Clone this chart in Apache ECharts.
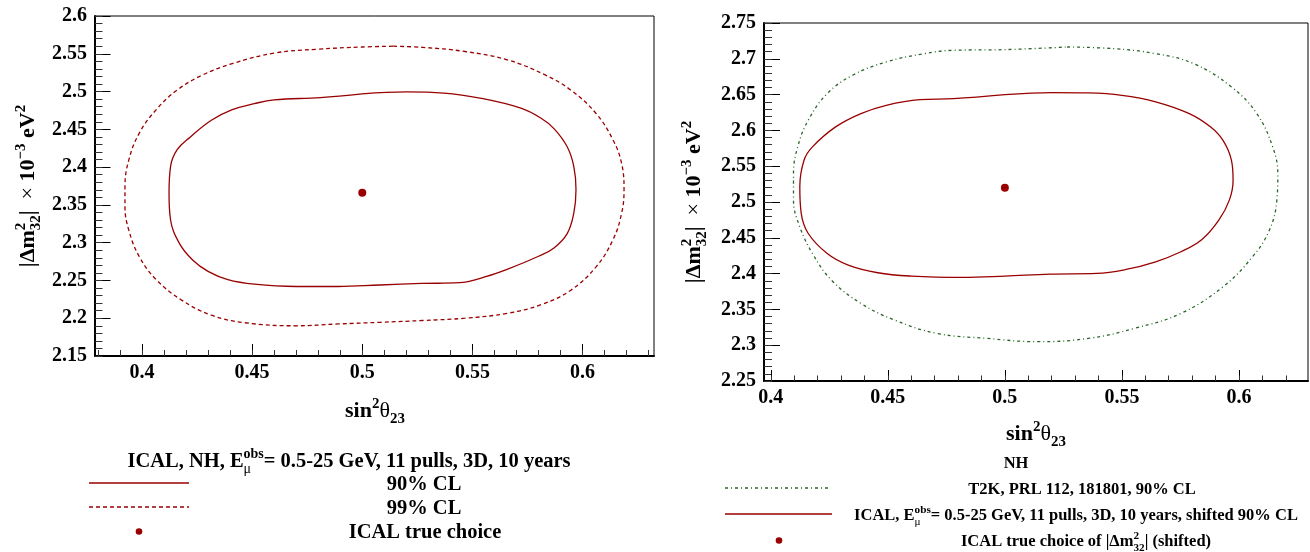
<!DOCTYPE html>
<html><head><meta charset="utf-8">
<script src="https://cdn.jsdelivr.net/npm/echarts@6/dist/echarts.min.js"></script>
<style>html,body{margin:0;padding:0;background:#fff}#c{width:1310px;height:552px}</style>
</head><body><div id="c"></div>
<script>
// ---------- data ----------
const xTickLabels = [0.4, 0.45, 0.5, 0.55, 0.6];
const leftYTickLabels = [2.15, 2.2, 2.25, 2.3, 2.35, 2.4, 2.45, 2.5, 2.55, 2.6];
const rightYTickLabels = [2.25, 2.3, 2.35, 2.4, 2.45, 2.5, 2.55, 2.6, 2.65, 2.7, 2.75];

const left90 = [[0.500,2.497],[0.520,2.4995],[0.537,2.498],[0.554,2.491],[0.572,2.478],[0.581,2.465],[0.587,2.451],[0.593,2.427],[0.596,2.401],[0.597,2.370],[0.596,2.339],[0.593,2.312],[0.587,2.293],[0.580,2.282],[0.566,2.265],[0.556,2.255],[0.544,2.247],[0.527,2.246],[0.508,2.244],[0.489,2.242],[0.470,2.242],[0.451,2.245],[0.439,2.251],[0.430,2.262],[0.423,2.277],[0.417,2.299],[0.413,2.330],[0.4123,2.365],[0.413,2.401],[0.416,2.423],[0.422,2.440],[0.4315,2.462],[0.441,2.476],[0.451,2.484],[0.460,2.489],[0.481,2.492],[0.500,2.497]];
const left99 = [[0.514,2.560],[0.5274,2.5585],[0.5466,2.553],[0.5658,2.542],[0.583,2.522],[0.5946,2.502],[0.6061,2.471],[0.6138,2.436],[0.6177,2.405],[0.6188,2.370],[0.6177,2.339],[0.6138,2.304],[0.6061,2.268],[0.5946,2.237],[0.5812,2.218],[0.5658,2.2065],[0.5466,2.200],[0.5274,2.197],[0.5083,2.1946],[0.489,2.1924],[0.470,2.190],[0.4468,2.194],[0.4315,2.204],[0.418,2.224],[0.4065,2.251],[0.3988,2.2815],[0.394,2.317],[0.3923,2.348],[0.3923,2.374],[0.394,2.409],[0.3988,2.445],[0.4065,2.476],[0.416,2.502],[0.4276,2.522],[0.441,2.537],[0.4603,2.551],[0.4795,2.556],[0.500,2.559],[0.514,2.560]];
const leftTrue = [[0.5, 2.366]];

const right90 = [[0.500,2.650],[0.5203,2.6528],[0.5356,2.6523],[0.550,2.649],[0.5644,2.640],[0.5788,2.6235],[0.5878,2.605],[0.5932,2.586],[0.5968,2.558],[0.5975,2.5305],[0.5959,2.5026],[0.5914,2.4747],[0.5842,2.4477],[0.5752,2.4305],[0.5644,2.4165],[0.5518,2.4058],[0.5392,2.4002],[0.5194,2.3993],[0.500,2.3965],[0.4817,2.3947],[0.4601,2.3965],[0.4457,2.4012],[0.4331,2.4119],[0.4241,2.4281],[0.416,2.456],[0.413,2.484],[0.4124,2.5212],[0.4142,2.5584],[0.4178,2.577],[0.4277,2.6049],[0.4385,2.6235],[0.4493,2.6351],[0.4637,2.643],[0.478,2.6444],[0.500,2.650]];
const rightT2K = [[0.5266,2.7165],[0.5464,2.7142],[0.5644,2.7072],[0.5806,2.6933],[0.5968,2.6607],[0.6076,2.6235],[0.6144,2.577],[0.6166,2.5398],[0.6162,2.5026],[0.613,2.4607],[0.6058,2.4235],[0.5932,2.3816],[0.5752,2.3444],[0.5554,2.3235],[0.5356,2.3095],[0.514,2.3049],[0.4924,2.3095],[0.4709,2.3165],[0.4529,2.3351],[0.4385,2.3584],[0.4259,2.3909],[0.4178,2.4281],[0.4124,2.4653],[0.4097,2.5026],[0.4097,2.5398],[0.4115,2.577],[0.416,2.6142],[0.4241,2.6514],[0.4349,2.677],[0.4493,2.6956],[0.4655,2.7072],[0.478,2.7119],[0.500,2.7128],[0.5266,2.7165]];
const rightTrue = [[0.5, 2.52]];

// ---------- helpers ----------
function steps(a, b, d) { const out = []; const n = Math.round((b - a) / d); for (let i = 0; i <= n; i++) out.push(+(a + i * d).toFixed(4)); return out; }
const leftXMinor = steps(0.38, 0.63, 0.01);
const rightXMinor = steps(0.40, 0.62, 0.01);
const leftYMinor = steps(2.15, 2.60, 0.01);
const rightYMinor = steps(2.25, 2.75, 0.01);

const FF = '"Liberation Serif", "Times New Roman", serif';
const RED = '#990000', GREEN = '#2a662a';
const cv = document.createElement('canvas').getContext('2d');
function fstr(s, w) { return w + ' ' + s + 'px ' + FF; }
function mw(t, s, w) { cv.font = fstr(s, w); return cv.measureText(t).width; }
function boff(s, w) { cv.font = fstr(s, w); cv.textBaseline = 'middle'; return cv.measureText('H').actualBoundingBoxDescent; }
// pieces: {t, k size factor, w weight, dy baseline shift (x S), st: 'a'|'b' for stacked sup/sub}
function mathGroup(pieces, S, cx, by, rot) {
  let x = 0, sx = 0, sw = 0; const items = [];
  for (const p of pieces) {
    const s = S * (p.k || 1), w = p.w || 'bold', wd = mw(p.t, s, w);
    if (p.st === 'a') { sx = x; sw = wd; items.push({ p, s, w, x }); continue; }
    if (p.st === 'b') { items.push({ p, s, w, x: sx }); x = sx + Math.max(sw, wd); continue; }
    items.push({ p, s, w, x }); x += wd;
  }
  const W = x;
  return {
    type: 'group', x: cx, y: by, rotation: rot || 0, silent: true,
    children: items.map(it => ({
      type: 'text', x: it.x - W / 2, y: (it.p.dy || 0) * S - boff(it.s, it.w),
      style: { text: it.p.t, fontSize: it.s, fontWeight: it.w, fontFamily: FF, fill: '#000', align: 'left', verticalAlign: 'middle' }
    }))
  };
}
const SUP = -0.42, SUB = 0.28, K = 0.68;
function yTitle() {
  return [
    { t: '|' , w: 'bold' }, { t: 'Δ', w: 'bold' }, { t: 'm', w: 'bold' },
    { t: '2', k: K, dy: SUP, st: 'a' }, { t: '32', k: K, dy: SUB, st: 'b' },
    { t: '|  ', w: 'bold' }, { t: '×', w: 'normal' }, { t: ' 10', w: 'bold' },
    { t: '−3', k: K, dy: SUP }, { t: ' eV', w: 'bold' }, { t: '2', k: K, dy: SUP }
  ];
}
function xTitle() {
  return [{ t: 'sin' }, { t: '2', k: K, dy: SUP }, { t: 'θ', w: 'normal' }, { t: '23', k: K, dy: SUB }];
}
function eObs(prefix, suffix) {
  return [{ t: prefix }, { t: 'E' }, { t: 'obs', k: K, dy: SUP, st: 'a' }, { t: 'μ', k: K, dy: SUB, w: 'normal', st: 'b' }, { t: suffix }];
}
function line(x1, x2, y, color, dash) {
  return { type: 'line', silent: true, shape: { x1, y1: y, x2, y2: y }, style: { stroke: color, lineWidth: 1.3, lineDash: dash || null } };
}
function dot(x, y) { return { type: 'circle', silent: true, shape: { cx: x, cy: y, r: 3.3 }, style: { fill: RED } }; }

// ---------- axes ----------
function majorX(grid, min, max, tickLen) {
  return { type: 'value', gridIndex: grid, min, max, position: 'bottom',
    axisLine: { show: true, onZero: false, lineStyle: { color: '#000', width: 2 } },
    axisTick: { show: true, inside: true, length: tickLen, customValues: xTickLabels, lineStyle: { color: '#000', width: 1 } },
    axisLabel: { show: true, customValues: xTickLabels, margin: 7, color: '#000', fontSize: 20, fontWeight: 'bold', fontFamily: FF },
    splitLine: { show: false } };
}
function minorX(grid, min, max, vals, tickLen) {
  return { type: 'value', gridIndex: grid, min, max, position: 'bottom',
    axisLine: { show: false, onZero: false },
    axisTick: { show: true, inside: true, length: tickLen, customValues: vals, lineStyle: { color: '#333', width: 1 } },
    axisLabel: { show: false }, splitLine: { show: false } };
}
function majorY(grid, min, max, vals, tickLen) {
  return { type: 'value', gridIndex: grid, min, max, position: 'left',
    axisLine: { show: true, onZero: false, lineStyle: { color: '#000', width: 2 } },
    axisTick: { show: true, inside: true, length: tickLen, customValues: vals, lineStyle: { color: '#000', width: 1 } },
    axisLabel: { show: true, customValues: vals, margin: 8, color: '#000', fontSize: 20, fontWeight: 'bold', fontFamily: FF },
    splitLine: { show: false } };
}
function minorY(grid, min, max, vals, tickLen) {
  return { type: 'value', gridIndex: grid, min, max, position: 'left',
    axisLine: { show: false, onZero: false },
    axisTick: { show: true, inside: true, length: tickLen, customValues: vals, lineStyle: { color: '#333', width: 1 } },
    axisLabel: { show: false }, splitLine: { show: false } };
}

const chart = echarts.init(document.getElementById('c'), null, { renderer: 'canvas' });
const LXMIN = 0.3787, LXMAX = 0.6324, RXMIN = 0.3971, RXMAX = 0.6295;
const option = {
  animation: false,
  backgroundColor: '#fff',
  grid: [
    { left: 95, top: 16, width: 559, height: 340, show: true, borderColor: '#000', borderWidth: 1, backgroundColor: 'transparent' },
    { left: 764, top: 23, width: 544, height: 358, show: true, borderColor: '#000', borderWidth: 1, backgroundColor: 'transparent' }
  ],
  xAxis: [
    majorX(0, LXMIN, LXMAX, 12), minorX(0, LXMIN, LXMAX, leftXMinor, 6),
    majorX(1, RXMIN, RXMAX, 11), minorX(1, RXMIN, RXMAX, rightXMinor, 5.5)
  ],
  yAxis: [
    majorY(0, 2.15, 2.6, leftYTickLabels, 15.5), minorY(0, 2.15, 2.6, leftYMinor, 7.5),
    majorY(1, 2.25, 2.75, rightYTickLabels, 16), minorY(1, 2.25, 2.75, rightYMinor, 8)
  ],
  series: [
    { type: 'line', name: '99% CL', xAxisIndex: 0, yAxisIndex: 0, data: left99, smooth: 0.4, showSymbol: false, lineStyle: { color: RED, width: 1.3, type: [4, 3] } },
    { type: 'line', name: '90% CL', xAxisIndex: 0, yAxisIndex: 0, data: left90, smooth: 0.4, showSymbol: false, lineStyle: { color: RED, width: 1.3 } },
    { type: 'scatter', name: 'ICAL true choice', xAxisIndex: 0, yAxisIndex: 0, data: leftTrue, symbolSize: 8, itemStyle: { color: RED, opacity: 1 } },
    { type: 'line', name: 'T2K', xAxisIndex: 2, yAxisIndex: 2, data: rightT2K, smooth: 0.4, showSymbol: false, lineStyle: { color: GREEN, width: 1.3, type: [3, 3, 1, 3] } },
    { type: 'line', name: 'ICAL shifted 90% CL', xAxisIndex: 2, yAxisIndex: 2, data: right90, smooth: 0.4, showSymbol: false, lineStyle: { color: RED, width: 1.3 } },
    { type: 'scatter', name: 'ICAL true choice (shifted)', xAxisIndex: 2, yAxisIndex: 2, data: rightTrue, symbolSize: 8, itemStyle: { color: RED, opacity: 1 } }
  ],
  graphic: [
    // axis titles
    mathGroup(yTitle(), 22, 34, 186, Math.PI / 2),
    mathGroup(yTitle(), 22, 700, 202, Math.PI / 2),
    mathGroup(xTitle(), 22, 375, 417),
    mathGroup(xTitle(), 22, 1036, 440),
    // left legend
    mathGroup(eObs('ICAL, NH, ', '= 0.5-25 GeV, 11 pulls, 3D, 10 years'), 20.5, 349, 467),
    line(89, 189, 483, RED), mathGroup([{ t: '90% CL' }], 20.5, 424, 490),
    line(89, 189, 507, RED, [4, 3]), mathGroup([{ t: '99% CL' }], 20.5, 424, 514),
    dot(139, 531.5), mathGroup([{ t: 'ICAL true choice' }], 20.5, 425, 538),
    // right legend
    mathGroup([{ t: 'NH' }], 16.5, 1016, 468),
    line(725, 831, 488, GREEN, [3, 3, 1, 3]), mathGroup([{ t: 'T2K, PRL 112, 181801, 90% CL' }], 16.5, 1082, 494),
    line(725, 832, 514, RED), mathGroup(eObs('ICAL, ', '= 0.5-25 GeV, 11 pulls, 3D, 10 years, shifted 90% CL'), 16.5, 1076, 520),
    dot(779, 540.5), mathGroup([{ t: 'ICAL true choice of |' }, { t: 'Δ' }, { t: 'm' }, { t: '2', k: K, dy: SUP, st: 'a' }, { t: '32', k: K, dy: SUB, st: 'b' }, { t: '| (shifted)' }], 16.5, 1086, 546)
  ]
};
chart.setOption(option);
</script>
</body></html>
